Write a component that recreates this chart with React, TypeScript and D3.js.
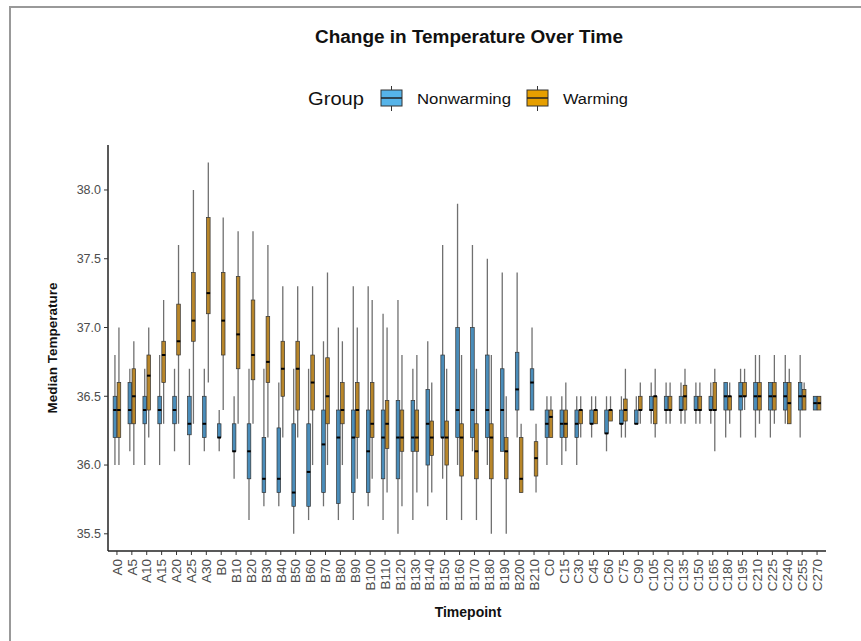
import React from "react";
import * as d3 from "d3";

const timepoints = ["A0","A5","A10","A15","A20","A25","A30","B0","B10","B20","B30","B40","B50","B60","B70","B80","B90","B100","B110","B120","B130","B140","B150","B160","B170","B180","B190","B200","B210","C0","C15","C30","C45","C60","C75","C90","C105","C120","C135","C150","C165","C180","C195","C210","C225","C240","C255","C270"];

// Nonwarming: whisker low, q1, median, q3, whisker high
const nwLow  = [36.0,36.1,36.0,36.0,36.1,36.0,36.1,36.1,35.9,35.6,35.7,35.7,35.5,35.6,35.7,35.6,35.6,35.7,35.6,35.5,35.6,35.7,35.9,36.0,36.1,36.0,36.1,36.2,36.4,36.0,36.0,36.0,36.2,36.1,36.2,36.3,36.3,36.3,36.3,36.3,36.3,36.2,36.2,36.2,36.2,36.3,36.2,36.4];
const nwQ1   = [36.2,36.3,36.3,36.3,36.3,36.22,36.2,36.2,36.1,35.9,35.8,35.8,35.7,35.7,35.8,35.72,35.8,35.8,35.9,35.9,36.1,36.0,36.2,36.2,36.2,36.2,36.1,36.4,36.4,36.2,36.2,36.2,36.3,36.23,36.3,36.3,36.4,36.4,36.4,36.4,36.4,36.4,36.4,36.4,36.4,36.4,36.4,36.4];
const nwMed  = [36.4,36.4,36.4,36.4,36.4,36.3,36.3,36.2,36.1,36.1,35.9,35.9,35.8,35.95,36.15,36.2,36.2,36.1,36.2,36.2,36.2,36.3,36.2,36.4,36.4,36.4,36.4,36.55,36.6,36.3,36.3,36.3,36.3,36.23,36.3,36.3,36.4,36.4,36.4,36.4,36.4,36.5,36.5,36.5,36.5,36.5,36.5,36.45];
const nwQ3   = [36.5,36.6,36.5,36.5,36.5,36.5,36.5,36.3,36.3,36.3,36.2,36.27,36.3,36.3,36.4,36.4,36.4,36.4,36.4,36.47,36.47,36.55,36.8,37.0,37.0,36.8,36.7,36.82,36.7,36.4,36.4,36.4,36.4,36.4,36.4,36.4,36.5,36.5,36.5,36.5,36.5,36.6,36.6,36.6,36.6,36.6,36.6,36.5];
const nwHigh = [36.8,36.7,36.7,36.8,36.7,36.7,36.7,36.4,36.5,36.7,36.7,36.6,36.7,36.7,36.9,37.0,37.3,37.3,37.1,37.2,36.7,36.9,37.6,37.9,37.6,37.5,37.4,37.4,37.0,36.5,36.5,36.5,36.5,36.5,36.5,36.5,36.6,36.6,36.6,36.6,36.6,36.6,36.7,36.8,36.6,36.8,36.8,36.5];

// Warming: whisker low, q1, median, q3, whisker high
const wLow  = [36.0,36.0,36.2,36.3,36.3,36.3,36.6,36.4,36.3,36.3,36.2,36.2,36.2,36.0,36.0,36.0,35.9,35.9,35.8,35.7,35.8,35.8,35.6,35.6,35.6,35.5,35.5,35.8,35.8,36.2,36.1,36.2,36.3,36.32,36.2,36.3,36.2,36.3,36.3,36.3,36.1,36.3,36.4,36.3,36.3,36.3,36.4,36.4];
const wQ1   = [36.2,36.3,36.4,36.6,36.8,36.9,37.1,36.8,36.7,36.62,36.6,36.5,36.4,36.4,36.3,36.3,36.2,36.2,36.12,36.1,36.1,36.07,36.0,35.92,35.9,35.9,35.9,35.8,35.92,36.2,36.2,36.3,36.3,36.32,36.32,36.4,36.3,36.4,36.4,36.4,36.4,36.4,36.5,36.4,36.4,36.3,36.4,36.4];
const wMed  = [36.4,36.5,36.65,36.8,36.9,37.05,37.25,37.05,36.95,36.8,36.75,36.7,36.7,36.6,36.5,36.4,36.4,36.3,36.3,36.2,36.2,36.2,36.2,36.2,36.1,36.2,36.1,35.9,36.05,36.35,36.3,36.4,36.4,36.4,36.4,36.4,36.5,36.4,36.5,36.4,36.4,36.5,36.5,36.5,36.5,36.45,36.5,36.45];
const wQ3   = [36.6,36.7,36.8,36.9,37.17,37.4,37.8,37.4,37.37,37.2,37.08,36.9,36.9,36.8,36.78,36.6,36.6,36.6,36.47,36.4,36.4,36.32,36.32,36.3,36.3,36.3,36.2,36.2,36.17,36.4,36.4,36.4,36.4,36.4,36.48,36.5,36.5,36.5,36.58,36.5,36.6,36.5,36.6,36.6,36.6,36.6,36.55,36.5];
const wHigh = [37.0,36.9,37.0,37.2,37.6,38.0,38.2,37.8,37.7,37.7,37.6,37.3,37.3,37.3,37.4,36.9,37.0,37.2,37.0,36.8,36.8,36.6,36.7,36.8,36.7,36.8,36.5,36.3,36.3,36.5,36.6,36.5,36.5,36.5,36.7,36.6,36.7,36.6,36.7,36.6,36.7,36.6,36.7,36.8,36.8,36.7,36.6,36.5];

const yTicks = [35.5, 36.0, 36.5, 37.0, 37.5, 38.0];
const groups = ["Nonwarming", "Warming"];
const legendColors = ["#56B4E9", "#E69F00"];
const boxColors = ["#4a8dba", "#b8862a"];

const FONT = "'Liberation Sans', Arial, Helvetica, sans-serif";

export default function App() {
  const W = 861, H = 641;
  const left = 108, right = 826, top = 145, bottom = 551;

  const x = d3.scalePoint<string>().domain(timepoints).range([left, right]).padding(0.6);
  const y = d3.scaleLinear().domain([35.375, 38.327]).range([bottom, top]);

  const boxW = 3.6;
  const offsets = [-2.0, 2.0];
  const series = [
    { low: nwLow, q1: nwQ1, med: nwMed, q3: nwQ3, high: nwHigh },
    { low: wLow, q1: wQ1, med: wMed, q3: wQ3, high: wHigh },
  ];

  return (
    <svg width={W} height={H} style={{ position: "absolute", left: 0, top: 0, background: "#fff" }} fontFamily={FONT}>
      <rect x={0} y={0} width={W} height={H} fill="#fff" />
      {/* frame */}
      <line x1={9} y1={7} x2={W} y2={7} stroke="#999" strokeWidth={2} />
      <line x1={10} y1={7} x2={10} y2={H} stroke="#999" strokeWidth={2} />

      {/* title */}
      <text x={315} y={43} fontSize={18} fontWeight="bold" fill="#111" textLength={308} lengthAdjust="spacingAndGlyphs">Change in Temperature Over Time</text>

      {/* legend */}
      <text x={308} y={105} fontSize={19} fill="#111" textLength={56} lengthAdjust="spacingAndGlyphs">Group</text>
      {groups.map((g, i) => {
        const kx = i === 0 ? 381 : 527;
        const tx = i === 0 ? 417 : 563;
        const tl = i === 0 ? 94 : 65;
        return (
          <g key={g}>
            <line x1={kx + 10.5} x2={kx + 10.5} y1={86} y2={111} stroke="#333" strokeWidth={1} />
            <rect x={kx} y={90} width={21} height={16} fill={legendColors[i]} stroke="#333" strokeWidth={1} />
            <line x1={kx} x2={kx + 21} y1={98} y2={98} stroke="#222" strokeWidth={1.5} />
            <text x={tx} y={104} fontSize={15.5} fill="#111" textLength={tl} lengthAdjust="spacingAndGlyphs">{g}</text>
          </g>
        );
      })}

      {/* boxes */}
      {series.map((s, gi) => (
        <g key={gi}>
          {timepoints.map((t, i) => {
            const cx = (x(t) as number) + offsets[gi];
            return (
              <g key={t}>
                <line x1={cx} x2={cx} y1={y(s.high[i])} y2={y(s.low[i])} stroke="#707070" strokeWidth={1.3} />
                <rect x={cx - boxW / 2} y={y(s.q3[i])} width={boxW} height={Math.max(0.5, y(s.q1[i]) - y(s.q3[i]))}
                  fill={boxColors[gi]} stroke="#333" strokeWidth={0.7} />
                <line x1={cx - boxW / 2} x2={cx + boxW / 2} y1={y(s.med[i])} y2={y(s.med[i])} stroke="#000" strokeWidth={2} />
              </g>
            );
          })}
        </g>
      ))}

      {/* y axis */}
      <line x1={left} x2={left} y1={top} y2={bottom} stroke="#222" strokeWidth={1.5} />
      {yTicks.map((v) => (
        <g key={v}>
          <line x1={left - 4} x2={left} y1={y(v)} y2={y(v)} stroke="#333" strokeWidth={1} />
          <text x={left - 7} y={y(v)} dy="0.35em" textAnchor="end" fontSize={12.5} fill="#4d4d4d">{v.toFixed(1)}</text>
        </g>
      ))}
      <text transform={`translate(57,${(top + bottom) / 2}) rotate(-90)`} textAnchor="middle" fontSize={13.5} fontWeight="bold" fill="#111">Median Temperature</text>

      {/* x axis */}
      <line x1={left} x2={right} y1={bottom} y2={bottom} stroke="#222" strokeWidth={1.5} />
      {timepoints.map((t) => (
        <g key={t}>
          <line x1={x(t)} x2={x(t)} y1={bottom} y2={bottom + 4} stroke="#333" strokeWidth={1} />
          <text transform={`translate(${x(t)},${bottom + 8}) rotate(-90)`} dy="0.35em" textAnchor="end" fontSize={13.5} fill="#4d4d4d">{t}</text>
        </g>
      ))}
      <text x={468} y={617} textAnchor="middle" fontSize={14} fontWeight="bold" fill="#111">Timepoint</text>
    </svg>
  );
}
